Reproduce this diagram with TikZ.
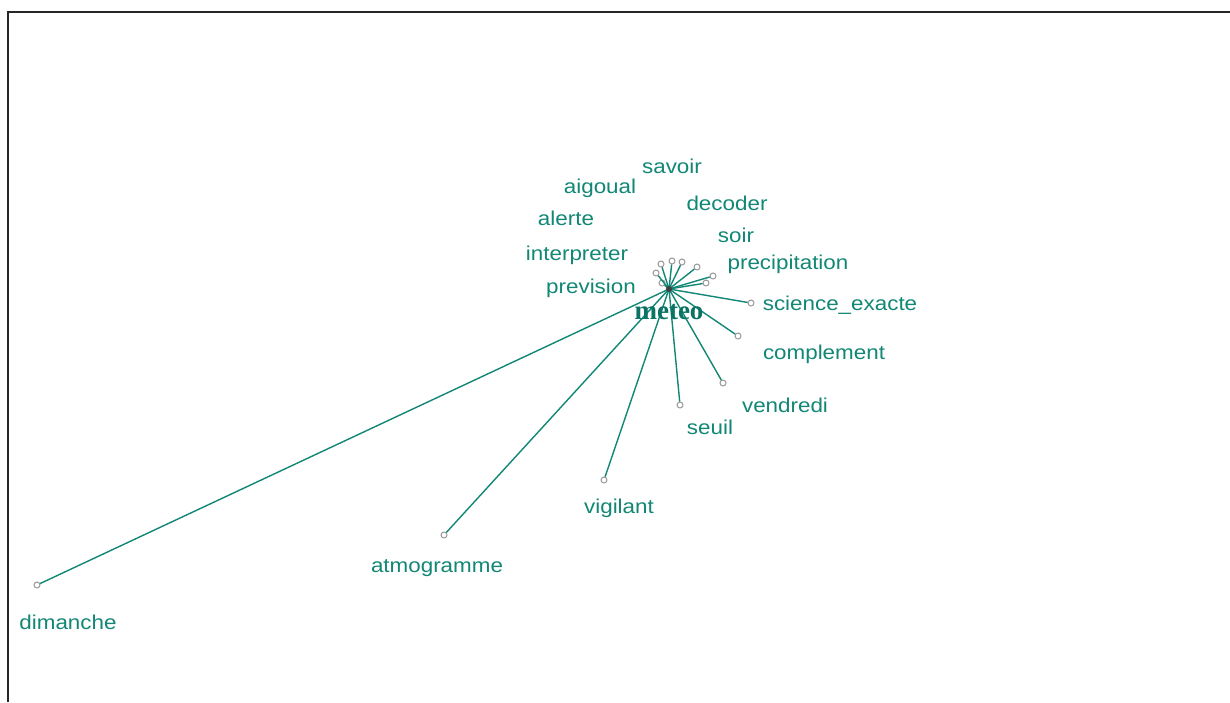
\documentclass[tikz,border=0pt]{standalone}
\usepackage{fontspec}
\setmainfont{Liberation Sans}[FakeStretch=1.12]
\newfontfamily\hubfont{Liberation Serif}
\definecolor{teal1}{RGB}{18,135,118}
\definecolor{hubcol}{RGB}{10,115,100}
\begin{document}
\begin{tikzpicture}[x=1pt,y=-1pt,
  leaf/.style={circle,draw=gray!80,fill=white,line width=1pt,inner sep=0pt,minimum size=6pt},
  word/.style={text=teal1,font=\fontsize{20}{22}\selectfont,inner sep=0pt,anchor=center},
  edge/.style={draw=teal1,line width=1.4pt}]
\useasboundingbox (0,0) rectangle (1230,702);
\fill[white] (0,0) rectangle (1230,702);
\draw[line width=2pt,black!85] (7.5,702) -- (7.5,12) -- (1230,12);
% leaves
\node[leaf] (l-prevision) at (662,283) {};
\node[leaf] (l-interpreter) at (656,273) {};
\node[leaf] (l-alerte) at (661,264) {};
\node[leaf] (l-aigoual) at (672,261) {};
\node[leaf] (l-savoir) at (682,262) {};
\node[leaf] (l-decoder) at (697,267) {};
\node[leaf] (l-soir) at (713,276) {};
\node[leaf] (l-precipitation) at (706,283) {};
\node[leaf] (l-science) at (751,303) {};
\node[leaf] (l-complement) at (738,336) {};
\node[leaf] (l-vendredi) at (723,383) {};
\node[leaf] (l-seuil) at (680,405) {};
\node[leaf] (l-vigilant) at (604,480) {};
\node[leaf] (l-atmogramme) at (444,535) {};
\node[leaf] (l-dimanche) at (37,585) {};
\coordinate (hubc) at (669,289);
\foreach \n in {prevision,interpreter,alerte,aigoual,savoir,decoder,soir,precipitation,science,complement,vendredi,seuil,vigilant,atmogramme,dimanche}
  \draw[edge] (hubc) -- (l-\n);
\node[circle,fill=black!75,inner sep=0pt,minimum size=6pt] (hub) at (hubc) {};
% labels
\node[word] (t-savoir) at (672,166) {savoir};
\node[word] (t-aigoual) at (600,188) {aigoual};
\node[word] (t-decoder) at (727,203) {decoder};
\node[word] (t-alerte) at (566,218) {alerte};
\node[word] (t-soir) at (736,235) {soir};
\node[word] (t-interpreter) at (577,255) {interpreter};
\node[word] (t-precipitation) at (788,264) {precipitation};
\node[word] (t-prevision) at (591,288) {prevision};
\node[word] (t-science) at (840,305) {science\_exacte};
\node[word] (t-complement) at (824,354) {complement};
\node[word] (t-vendredi) at (785,405) {vendredi};
\node[word] (t-seuil) at (710,427) {seuil};
\node[word] (t-vigilant) at (619,508) {vigilant};
\node[word] (t-atmogramme) at (437,568) {atmogramme};
\node[word] (t-dimanche) at (68,622) {dimanche};
\node[text=hubcol,font=\hubfont\bfseries\fontsize{27}{29}\selectfont,inner sep=0pt] (t-meteo) at (669,312) {meteo};
\end{tikzpicture}
\end{document}
